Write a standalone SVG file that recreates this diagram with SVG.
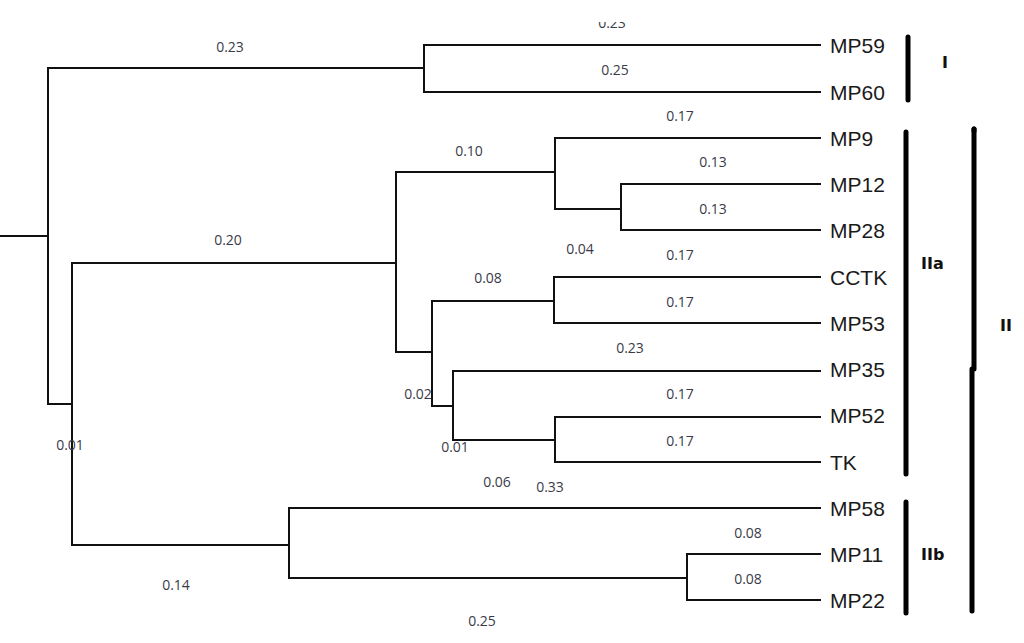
<svg xmlns="http://www.w3.org/2000/svg" width="1024" height="643" viewBox="0 0 1024 643">
<style>
.br{fill:none;stroke:#111;stroke-width:2;stroke-linecap:square}
.bl{font-family:"Open Sans","DejaVu Sans",sans-serif;font-size:14px;fill:#3a3a48;text-anchor:middle}
.lf{font-family:"Liberation Sans",Arial,sans-serif;font-size:21px;fill:#1a1a1a}
.bar{stroke:#000;stroke-width:5;stroke-linecap:round}
.gl{font-family:"DejaVu Sans",sans-serif;font-weight:bold;font-size:16px;fill:#111}
</style>
<defs>
<clipPath id="topclip"><rect x="0" y="22" width="1024" height="30"/></clipPath>
</defs>
<rect width="1024" height="643" fill="#fff"/>
<g id="connectors">
<path class="br" d="M0 236 H48 M48 68 V404 M48 68 H424 M424 45 V92 M424 45 H820 M424 92 H820"/>
<path class="br" d="M48 404 H72 M72 263 V545 M72 263 H396 M396 172 V352"/>
<path class="br" d="M396 172 H555 M555 138 V209 M555 138 H820 M555 209 H621 M621 184 V230 M621 184 H820 M621 230 H820"/>
<path class="br" d="M396 352 H432 M432 301 V406 M432 301 H554 M554 277 V323 M554 277 H820 M554 323 H820"/>
<path class="br" d="M432 406 H453 M453 371 V440 M453 371 H820 M453 440 H555 M555 417 V462 M555 417 H820 M555 462 H820"/>
<path class="br" d="M72 545 H289 M289 508 V578 M289 508 H820 M289 578 H687 M687 554 V600 M687 554 H820 M687 600 H820"/>
</g>
<g id="branch-labels">
<text class="bl" x="612" y="28" clip-path="url(#topclip)">0.23</text>
<text class="bl" x="230" y="52">0.23</text>
<text class="bl" x="615" y="75">0.25</text>
<text class="bl" x="680" y="121">0.17</text>
<text class="bl" x="469" y="156">0.10</text>
<text class="bl" x="713" y="167">0.13</text>
<text class="bl" x="713" y="214">0.13</text>
<text class="bl" x="228" y="245">0.20</text>
<text class="bl" x="580" y="254">0.04</text>
<text class="bl" x="680" y="260">0.17</text>
<text class="bl" x="488" y="283">0.08</text>
<text class="bl" x="680" y="307">0.17</text>
<text class="bl" x="630" y="353">0.23</text>
<text class="bl" x="418" y="399">0.02</text>
<text class="bl" x="680" y="399">0.17</text>
<text class="bl" x="680" y="446">0.17</text>
<text class="bl" x="455" y="452">0.01</text>
<text class="bl" x="70" y="450">0.01</text>
<text class="bl" x="497" y="487">0.06</text>
<text class="bl" x="550" y="492">0.33</text>
<text class="bl" x="748" y="538">0.08</text>
<text class="bl" x="748" y="584">0.08</text>
<text class="bl" x="176" y="590">0.14</text>
<text class="bl" x="482" y="626">0.25</text>
</g>
<g id="leaf-MP59"><text class="lf" x="830" y="53">MP59</text></g>
<g id="leaf-MP60"><text class="lf" x="830" y="100">MP60</text></g>
<g id="leaf-MP9"><text class="lf" x="830" y="146">MP9</text></g>
<g id="leaf-MP12"><text class="lf" x="830" y="192">MP12</text></g>
<g id="leaf-MP28"><text class="lf" x="830" y="238">MP28</text></g>
<g id="leaf-CCTK"><text class="lf" x="830" y="285">CCTK</text></g>
<g id="leaf-MP53"><text class="lf" x="830" y="331">MP53</text></g>
<g id="leaf-MP35"><text class="lf" x="830" y="377">MP35</text></g>
<g id="leaf-MP52"><text class="lf" x="830" y="423">MP52</text></g>
<g id="leaf-TK"><text class="lf" x="830" y="470">TK</text></g>
<g id="leaf-MP58"><text class="lf" x="830" y="516">MP58</text></g>
<g id="leaf-MP11"><text class="lf" x="830" y="562">MP11</text></g>
<g id="leaf-MP22"><text class="lf" x="830" y="608">MP22</text></g>
<g id="group-I">
<line class="bar" x1="908" y1="37" x2="908" y2="100"/>
<text class="gl" x="945" y="68" text-anchor="middle">I</text>
</g>
<g id="group-IIa">
<line class="bar" x1="906" y1="132" x2="906" y2="474"/>
<text class="gl" x="921" y="269">IIa</text>
</g>
<g id="group-IIb">
<line class="bar" x1="906" y1="502" x2="906" y2="613"/>
<text class="gl" x="921" y="560">IIb</text>
</g>
<g id="group-II">
<line class="bar" x1="974" y1="129" x2="974" y2="369" stroke-linecap="butt"/>
<line class="bar" x1="972" y1="369" x2="972" y2="611"/>
<line class="bar" x1="974" y1="129" x2="974" y2="131"/>
<text class="gl" x="1006" y="331" text-anchor="middle">II</text>
</g>
</svg>
